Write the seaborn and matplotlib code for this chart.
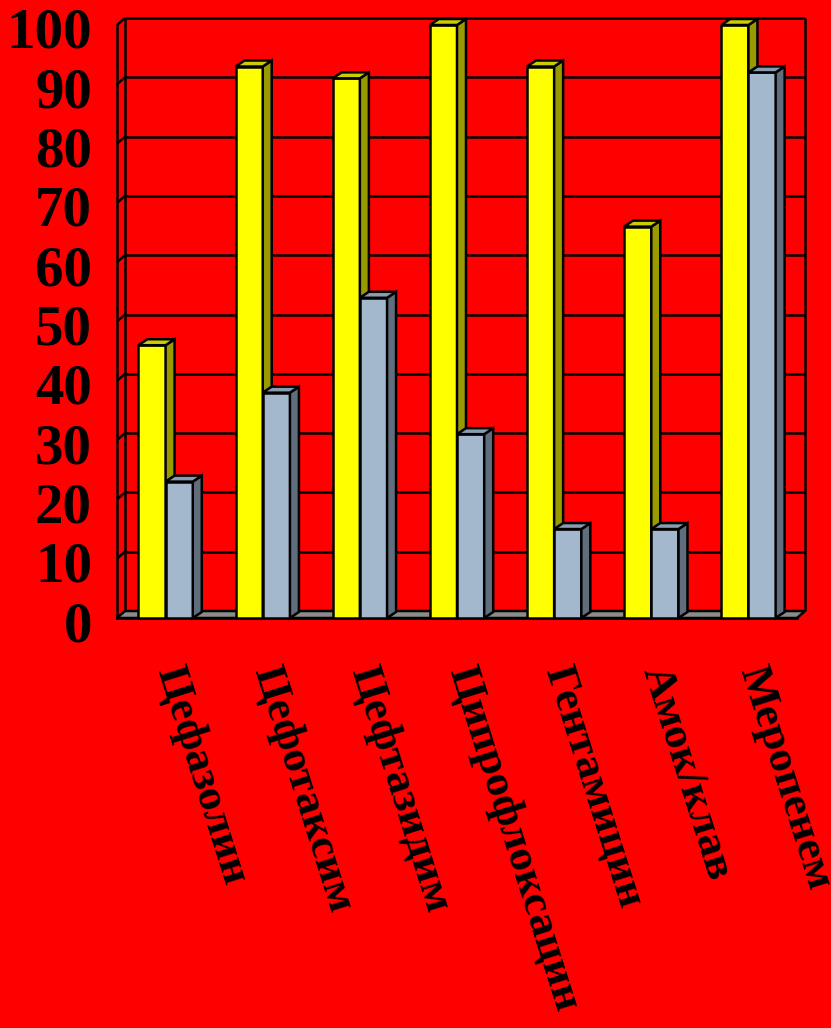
import numpy as np
import pandas as pd
import matplotlib
matplotlib.use("Agg")
import matplotlib.pyplot as plt
import matplotlib.transforms as mtransforms
from matplotlib.patches import Polygon, Rectangle
import seaborn as sns

# ---- data -------------------------------------------------------------
drugs = ["Цефазолин", "Цефотаксим", "Цефтазидим", "Ципрофлоксацин",
         "Гентамицин", "Амок/клав", "Меропенем"]
series_names = ["Серия 1", "Серия 2"]
series_1 = [46, 93, 91, 100, 93, 66, 100]
series_2 = [23, 38, 54, 31, 15, 15, 92]
y_ticks = list(range(0, 101, 10))

# ---- style ------------------------------------------------------------
sns.set_style("white")
plt.rcParams["font.family"] = ["Liberation Serif", "DejaVu Serif"]
plt.rcParams["font.weight"] = "bold"

BG = "#FF0000"
FRONT = ["#FFFF00", "#A3B8CC"]
SIDE = ["#999900", "#5F6D7C"]
TOP = ["#CCCC00", "#8A9CB0"]
FLOOR = "#8C8C8C"
LW = 1.8

df = pd.DataFrame({
    "drug": drugs * 2,
    "value": series_1 + series_2,
    "series": [series_names[0]] * len(drugs) + [series_names[1]] * len(drugs),
})

W, H, DPI = 831, 1028, 100
fig = plt.figure(figsize=(W / DPI, H / DPI), dpi=DPI, facecolor=BG)
ax = fig.add_axes([117 / W, 1 - 618 / H, 680 / W, 593 / H])
ax.set_facecolor("none")

sns.barplot(data=df, x="drug", y="value", hue="series", palette=FRONT,
            width=0.56, saturation=1, edgecolor="black", linewidth=LW,
            legend=False, ax=ax)
bars = [p for p in ax.patches if isinstance(p, Rectangle)]

ax.set_xlim(-0.5, len(drugs) - 0.5)
ax.set_ylim(0, 100)
ax.set_xlabel("")
ax.set_ylabel("")


def depth(dx_px, dy_px):
    """Convert a screen offset in pixels into data units."""
    inv = ax.transData.inverted()
    p0 = ax.transData.transform((0, 0))
    p1 = inv.transform(p0 + np.array([dx_px, dy_px]))
    return p1[0], p1[1]


# back wall / floor depth and bar depth
wdx, wdy = depth(8, 7)
bdx, bdy = depth(9, 6)

x_lo, x_hi = -0.5, len(drugs) - 0.5
line_kw = dict(color="black", lw=LW, clip_on=False, solid_capstyle="butt")

# back wall grid, side-wall connectors and wall edges
for t in y_ticks[1:]:
    ax.plot([x_lo + wdx, x_hi + wdx], [t + wdy, t + wdy], zorder=1, **line_kw)
for t in y_ticks:
    ax.plot([x_lo, x_lo + wdx], [t, t + wdy], zorder=1, **line_kw)
ax.plot([x_lo + wdx] * 2, [wdy, 100 + wdy], zorder=1, **line_kw)
ax.plot([x_hi + wdx] * 2, [wdy, 100 + wdy], zorder=1, **line_kw)

# floor
ax.add_patch(Polygon([(x_lo, 0), (x_hi, 0), (x_hi + wdx, wdy), (x_lo + wdx, wdy)],
                     closed=True, facecolor=FLOOR, edgecolor="black",
                     lw=LW, zorder=1.5, clip_on=False))

# 3-D sides and tops of the columns
for p in bars:
    x0, w, h = p.get_x(), p.get_width(), p.get_height()
    cx = x0 + w / 2
    k = 0 if cx < round(cx) else 1
    z = 3 + k
    p.set_zorder(z)
    side = [(x0 + w, 0), (x0 + w + bdx, bdy), (x0 + w + bdx, h + bdy), (x0 + w, h)]
    top = [(x0, h), (x0 + bdx, h + bdy), (x0 + w + bdx, h + bdy), (x0 + w, h)]
    ax.add_patch(Polygon(side, closed=True, facecolor=SIDE[k], edgecolor="black",
                         lw=LW, zorder=z + 0.1, clip_on=False))
    ax.add_patch(Polygon(top, closed=True, facecolor=TOP[k], edgecolor="black",
                         lw=LW, zorder=z + 0.1, clip_on=False))

# spines
for s in ["top", "right"]:
    ax.spines[s].set_visible(False)
for s in ["left", "bottom"]:
    ax.spines[s].set_color("black")
    ax.spines[s].set_linewidth(LW)

# y axis
ax.set_yticks(y_ticks)
ax.set_yticklabels([str(t) for t in y_ticks], fontsize=41, fontweight="bold",
                   va="baseline")
ax.tick_params(axis="y", direction="out", length=10, width=LW, color="black",
               pad=8, labelcolor="black")
ydown = mtransforms.ScaledTranslation(0, -23 / DPI, fig.dpi_scale_trans)
for lab in ax.get_yticklabels():
    lab.set_transform(lab.get_transform() + ydown)

# x axis: labels at centres, tick marks between categories
ax.set_xticks(range(len(drugs)))
ax.set_xticklabels(drugs, rotation=-72.5, ha="left", va="center",
                   rotation_mode="anchor", fontsize=32.5, fontweight="bold")
ax.set_xticks(np.arange(-0.5, len(drugs), 1), minor=True)
ax.tick_params(axis="x", which="major", length=0, pad=35, labelcolor="black")
ax.tick_params(axis="x", which="minor", direction="out", length=10,
               width=LW, color="black")
xshift = mtransforms.ScaledTranslation(2 / DPI, 0, fig.dpi_scale_trans)
for lab in ax.get_xticklabels():
    lab.set_transform(lab.get_transform() + xshift)

fig.savefig("out.png", dpi=DPI, facecolor=BG)
